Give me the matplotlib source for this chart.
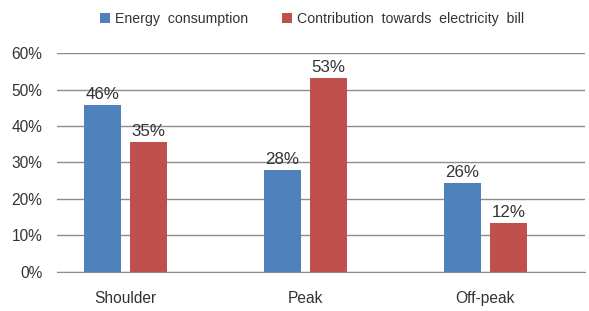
import numpy as np
import matplotlib.pyplot as plt
from matplotlib.ticker import PercentFormatter

categories = ['Shoulder', 'Peak', 'Off-peak']
energy = [45.8, 27.9, 24.4]
bill = [35.6, 53.2, 13.4]
energy_labels = ['46%', '28%', '26%']
bill_labels = ['35%', '53%', '12%']

plt.rcParams['font.family'] = ['Liberation Sans', 'DejaVu Sans']
txt = '#333333'

fig = plt.figure(figsize=(5.89, 3.11), dpi=100)
ax = fig.add_axes([0.097, 0.126, 0.896, 0.703])

x = np.arange(len(categories))
w = 0.205
b1 = ax.bar(x - 0.128, energy, w, color='#4F81BD', label='Energy  consumption', zorder=3)
b2 = ax.bar(x + 0.128, bill, w, color='#C0504D', label='Contribution  towards  electricity  bill', zorder=3)
ax.bar_label(b1, labels=energy_labels, padding=2, fontsize=12.2, color=txt)
ax.bar_label(b2, labels=bill_labels, padding=2, fontsize=12.2, color=txt)

ax.set_ylim(0, 60)
ax.set_xlim(-0.38, 2.553)
ax.set_yticks(range(0, 61, 10))
ax.yaxis.set_major_formatter(PercentFormatter(decimals=0))
ax.set_xticks(x)
ax.set_xticklabels(categories)
ax.tick_params(axis='both', length=0, labelsize=11.2, colors=txt)
ax.tick_params(axis='x', pad=14)
ax.tick_params(axis='y', pad=10.5)
ax.yaxis.grid(True, color='#8c8c8c', linewidth=1, zorder=0)
for s in ['top', 'right', 'left']:
    ax.spines[s].set_visible(False)
ax.spines['bottom'].set_color('#8c8c8c')

fig.legend(handles=[b1, b2], loc='upper left', bbox_to_anchor=(0.17, 0.962), ncol=2,
           frameon=False, fontsize=10.2, handlelength=0.7, handleheight=0.7,
           handletextpad=0.36, columnspacing=2.4, labelcolor=txt,
           borderpad=0, borderaxespad=0)

plt.savefig('out.png', dpi=100)
